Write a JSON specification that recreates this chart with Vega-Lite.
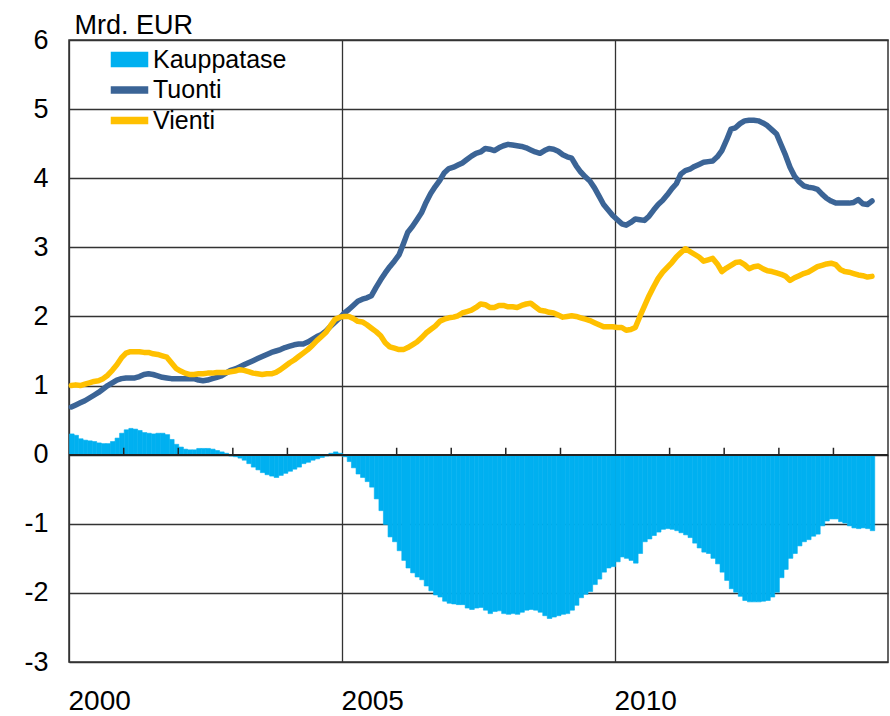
{
  "$schema": "https://vega.github.io/schema/vega-lite/v6.json",
  "width": 819,
  "height": 622,
  "autosize": "none",
  "padding": {"left": 69, "top": 40, "right": 2, "bottom": 54},
  "background": "white",
  "config": {
    "view": {"stroke": "#333", "strokeWidth": 1.5},
    "font": "Liberation Sans"
  },
  "data": {"values": [
{"d":"2000-01-01","Kauppatase":0.30,"Tuonti":0.69,"Vienti":1.00},
{"d":"2000-02-01","Kauppatase":0.28,"Tuonti":0.72,"Vienti":1.01},
{"d":"2000-03-01","Kauppatase":0.23,"Tuonti":0.75,"Vienti":1.00},
{"d":"2000-04-01","Kauppatase":0.21,"Tuonti":0.78,"Vienti":1.02},
{"d":"2000-05-01","Kauppatase":0.20,"Tuonti":0.82,"Vienti":1.04},
{"d":"2000-06-01","Kauppatase":0.19,"Tuonti":0.86,"Vienti":1.06},
{"d":"2000-07-01","Kauppatase":0.17,"Tuonti":0.90,"Vienti":1.07},
{"d":"2000-08-01","Kauppatase":0.16,"Tuonti":0.95,"Vienti":1.10},
{"d":"2000-09-01","Kauppatase":0.16,"Tuonti":1.00,"Vienti":1.15},
{"d":"2000-10-01","Kauppatase":0.19,"Tuonti":1.04,"Vienti":1.22},
{"d":"2000-11-01","Kauppatase":0.24,"Tuonti":1.08,"Vienti":1.30},
{"d":"2000-12-01","Kauppatase":0.31,"Tuonti":1.10,"Vienti":1.40},
{"d":"2001-01-01","Kauppatase":0.36,"Tuonti":1.11,"Vienti":1.47},
{"d":"2001-02-01","Kauppatase":0.38,"Tuonti":1.11,"Vienti":1.49},
{"d":"2001-03-01","Kauppatase":0.37,"Tuonti":1.11,"Vienti":1.49},
{"d":"2001-04-01","Kauppatase":0.35,"Tuonti":1.13,"Vienti":1.49},
{"d":"2001-05-01","Kauppatase":0.32,"Tuonti":1.16,"Vienti":1.48},
{"d":"2001-06-01","Kauppatase":0.31,"Tuonti":1.17,"Vienti":1.48},
{"d":"2001-07-01","Kauppatase":0.30,"Tuonti":1.16,"Vienti":1.46},
{"d":"2001-08-01","Kauppatase":0.31,"Tuonti":1.14,"Vienti":1.45},
{"d":"2001-09-01","Kauppatase":0.31,"Tuonti":1.12,"Vienti":1.43},
{"d":"2001-10-01","Kauppatase":0.29,"Tuonti":1.11,"Vienti":1.41},
{"d":"2001-11-01","Kauppatase":0.22,"Tuonti":1.10,"Vienti":1.33},
{"d":"2001-12-01","Kauppatase":0.15,"Tuonti":1.10,"Vienti":1.25},
{"d":"2002-01-01","Kauppatase":0.11,"Tuonti":1.10,"Vienti":1.21},
{"d":"2002-02-01","Kauppatase":0.08,"Tuonti":1.10,"Vienti":1.18},
{"d":"2002-03-01","Kauppatase":0.07,"Tuonti":1.10,"Vienti":1.16},
{"d":"2002-04-01","Kauppatase":0.07,"Tuonti":1.10,"Vienti":1.16},
{"d":"2002-05-01","Kauppatase":0.09,"Tuonti":1.08,"Vienti":1.17},
{"d":"2002-06-01","Kauppatase":0.09,"Tuonti":1.07,"Vienti":1.17},
{"d":"2002-07-01","Kauppatase":0.09,"Tuonti":1.08,"Vienti":1.18},
{"d":"2002-08-01","Kauppatase":0.08,"Tuonti":1.10,"Vienti":1.18},
{"d":"2002-09-01","Kauppatase":0.06,"Tuonti":1.12,"Vienti":1.19},
{"d":"2002-10-01","Kauppatase":0.04,"Tuonti":1.14,"Vienti":1.19},
{"d":"2002-11-01","Kauppatase":0.02,"Tuonti":1.18,"Vienti":1.19},
{"d":"2002-12-01","Kauppatase":-0.02,"Tuonti":1.22,"Vienti":1.20},
{"d":"2003-01-01","Kauppatase":-0.03,"Tuonti":1.24,"Vienti":1.21},
{"d":"2003-02-01","Kauppatase":-0.05,"Tuonti":1.27,"Vienti":1.23},
{"d":"2003-03-01","Kauppatase":-0.08,"Tuonti":1.30,"Vienti":1.22},
{"d":"2003-04-01","Kauppatase":-0.13,"Tuonti":1.33,"Vienti":1.20},
{"d":"2003-05-01","Kauppatase":-0.18,"Tuonti":1.36,"Vienti":1.18},
{"d":"2003-06-01","Kauppatase":-0.22,"Tuonti":1.39,"Vienti":1.17},
{"d":"2003-07-01","Kauppatase":-0.26,"Tuonti":1.42,"Vienti":1.16},
{"d":"2003-08-01","Kauppatase":-0.29,"Tuonti":1.45,"Vienti":1.17},
{"d":"2003-09-01","Kauppatase":-0.31,"Tuonti":1.48,"Vienti":1.17},
{"d":"2003-10-01","Kauppatase":-0.33,"Tuonti":1.50,"Vienti":1.19},
{"d":"2003-11-01","Kauppatase":-0.30,"Tuonti":1.52,"Vienti":1.23},
{"d":"2003-12-01","Kauppatase":-0.27,"Tuonti":1.55,"Vienti":1.28},
{"d":"2004-01-01","Kauppatase":-0.24,"Tuonti":1.57,"Vienti":1.33},
{"d":"2004-02-01","Kauppatase":-0.21,"Tuonti":1.59,"Vienti":1.37},
{"d":"2004-03-01","Kauppatase":-0.18,"Tuonti":1.60,"Vienti":1.42},
{"d":"2004-04-01","Kauppatase":-0.13,"Tuonti":1.60,"Vienti":1.47},
{"d":"2004-05-01","Kauppatase":-0.11,"Tuonti":1.63,"Vienti":1.52},
{"d":"2004-06-01","Kauppatase":-0.08,"Tuonti":1.67,"Vienti":1.58},
{"d":"2004-07-01","Kauppatase":-0.06,"Tuonti":1.71,"Vienti":1.65},
{"d":"2004-08-01","Kauppatase":-0.04,"Tuonti":1.74,"Vienti":1.71},
{"d":"2004-09-01","Kauppatase":-0.02,"Tuonti":1.79,"Vienti":1.77},
{"d":"2004-10-01","Kauppatase":0.02,"Tuonti":1.86,"Vienti":1.87},
{"d":"2004-11-01","Kauppatase":0.04,"Tuonti":1.92,"Vienti":1.96},
{"d":"2004-12-01","Kauppatase":0.02,"Tuonti":1.98,"Vienti":1.99},
{"d":"2005-01-01","Kauppatase":-0.03,"Tuonti":2.05,"Vienti":2.00},
{"d":"2005-02-01","Kauppatase":-0.10,"Tuonti":2.10,"Vienti":2.00},
{"d":"2005-03-01","Kauppatase":-0.19,"Tuonti":2.16,"Vienti":1.97},
{"d":"2005-04-01","Kauppatase":-0.28,"Tuonti":2.22,"Vienti":1.93},
{"d":"2005-05-01","Kauppatase":-0.33,"Tuonti":2.25,"Vienti":1.92},
{"d":"2005-06-01","Kauppatase":-0.39,"Tuonti":2.27,"Vienti":1.88},
{"d":"2005-07-01","Kauppatase":-0.47,"Tuonti":2.30,"Vienti":1.83},
{"d":"2005-08-01","Kauppatase":-0.64,"Tuonti":2.42,"Vienti":1.78},
{"d":"2005-09-01","Kauppatase":-0.81,"Tuonti":2.53,"Vienti":1.72},
{"d":"2005-10-01","Kauppatase":-1.01,"Tuonti":2.63,"Vienti":1.62},
{"d":"2005-11-01","Kauppatase":-1.19,"Tuonti":2.72,"Vienti":1.56},
{"d":"2005-12-01","Kauppatase":-1.26,"Tuonti":2.80,"Vienti":1.54},
{"d":"2006-01-01","Kauppatase":-1.39,"Tuonti":2.89,"Vienti":1.52},
{"d":"2006-02-01","Kauppatase":-1.53,"Tuonti":3.05,"Vienti":1.52},
{"d":"2006-03-01","Kauppatase":-1.64,"Tuonti":3.22,"Vienti":1.55},
{"d":"2006-04-01","Kauppatase":-1.71,"Tuonti":3.30,"Vienti":1.59},
{"d":"2006-05-01","Kauppatase":-1.77,"Tuonti":3.40,"Vienti":1.63},
{"d":"2006-06-01","Kauppatase":-1.81,"Tuonti":3.50,"Vienti":1.69},
{"d":"2006-07-01","Kauppatase":-1.90,"Tuonti":3.65,"Vienti":1.76},
{"d":"2006-08-01","Kauppatase":-1.97,"Tuonti":3.78,"Vienti":1.81},
{"d":"2006-09-01","Kauppatase":-2.03,"Tuonti":3.88,"Vienti":1.86},
{"d":"2006-10-01","Kauppatase":-2.06,"Tuonti":3.97,"Vienti":1.93},
{"d":"2006-11-01","Kauppatase":-2.12,"Tuonti":4.08,"Vienti":1.96},
{"d":"2006-12-01","Kauppatase":-2.15,"Tuonti":4.14,"Vienti":1.98},
{"d":"2007-01-01","Kauppatase":-2.16,"Tuonti":4.16,"Vienti":1.99},
{"d":"2007-02-01","Kauppatase":-2.17,"Tuonti":4.19,"Vienti":2.01},
{"d":"2007-03-01","Kauppatase":-2.17,"Tuonti":4.22,"Vienti":2.05},
{"d":"2007-04-01","Kauppatase":-2.22,"Tuonti":4.27,"Vienti":2.07},
{"d":"2007-05-01","Kauppatase":-2.24,"Tuonti":4.32,"Vienti":2.09},
{"d":"2007-06-01","Kauppatase":-2.22,"Tuonti":4.36,"Vienti":2.13},
{"d":"2007-07-01","Kauppatase":-2.21,"Tuonti":4.38,"Vienti":2.18},
{"d":"2007-08-01","Kauppatase":-2.25,"Tuonti":4.43,"Vienti":2.17},
{"d":"2007-09-01","Kauppatase":-2.30,"Tuonti":4.42,"Vienti":2.13},
{"d":"2007-10-01","Kauppatase":-2.27,"Tuonti":4.40,"Vienti":2.13},
{"d":"2007-11-01","Kauppatase":-2.26,"Tuonti":4.44,"Vienti":2.16},
{"d":"2007-12-01","Kauppatase":-2.30,"Tuonti":4.47,"Vienti":2.16},
{"d":"2008-01-01","Kauppatase":-2.31,"Tuonti":4.49,"Vienti":2.14},
{"d":"2008-02-01","Kauppatase":-2.30,"Tuonti":4.48,"Vienti":2.14},
{"d":"2008-03-01","Kauppatase":-2.31,"Tuonti":4.47,"Vienti":2.13},
{"d":"2008-04-01","Kauppatase":-2.28,"Tuonti":4.46,"Vienti":2.16},
{"d":"2008-05-01","Kauppatase":-2.25,"Tuonti":4.44,"Vienti":2.18},
{"d":"2008-06-01","Kauppatase":-2.24,"Tuonti":4.41,"Vienti":2.19},
{"d":"2008-07-01","Kauppatase":-2.25,"Tuonti":4.38,"Vienti":2.14},
{"d":"2008-08-01","Kauppatase":-2.28,"Tuonti":4.36,"Vienti":2.09},
{"d":"2008-09-01","Kauppatase":-2.33,"Tuonti":4.40,"Vienti":2.08},
{"d":"2008-10-01","Kauppatase":-2.37,"Tuonti":4.43,"Vienti":2.06},
{"d":"2008-11-01","Kauppatase":-2.35,"Tuonti":4.42,"Vienti":2.05},
{"d":"2008-12-01","Kauppatase":-2.33,"Tuonti":4.39,"Vienti":2.02},
{"d":"2009-01-01","Kauppatase":-2.31,"Tuonti":4.34,"Vienti":1.99},
{"d":"2009-02-01","Kauppatase":-2.30,"Tuonti":4.31,"Vienti":2.00},
{"d":"2009-03-01","Kauppatase":-2.25,"Tuonti":4.29,"Vienti":2.01},
{"d":"2009-04-01","Kauppatase":-2.18,"Tuonti":4.18,"Vienti":2.00},
{"d":"2009-05-01","Kauppatase":-2.07,"Tuonti":4.09,"Vienti":1.98},
{"d":"2009-06-01","Kauppatase":-2.02,"Tuonti":4.02,"Vienti":1.96},
{"d":"2009-07-01","Kauppatase":-1.98,"Tuonti":3.96,"Vienti":1.94},
{"d":"2009-08-01","Kauppatase":-1.88,"Tuonti":3.86,"Vienti":1.91},
{"d":"2009-09-01","Kauppatase":-1.80,"Tuonti":3.74,"Vienti":1.88},
{"d":"2009-10-01","Kauppatase":-1.70,"Tuonti":3.62,"Vienti":1.85},
{"d":"2009-11-01","Kauppatase":-1.64,"Tuonti":3.54,"Vienti":1.85},
{"d":"2009-12-01","Kauppatase":-1.62,"Tuonti":3.46,"Vienti":1.85},
{"d":"2010-01-01","Kauppatase":-1.55,"Tuonti":3.40,"Vienti":1.84},
{"d":"2010-02-01","Kauppatase":-1.48,"Tuonti":3.34,"Vienti":1.84},
{"d":"2010-03-01","Kauppatase":-1.50,"Tuonti":3.32,"Vienti":1.80},
{"d":"2010-04-01","Kauppatase":-1.53,"Tuonti":3.36,"Vienti":1.81},
{"d":"2010-05-01","Kauppatase":-1.57,"Tuonti":3.41,"Vienti":1.84},
{"d":"2010-06-01","Kauppatase":-1.43,"Tuonti":3.40,"Vienti":2.00},
{"d":"2010-07-01","Kauppatase":-1.26,"Tuonti":3.39,"Vienti":2.15},
{"d":"2010-08-01","Kauppatase":-1.22,"Tuonti":3.45,"Vienti":2.30},
{"d":"2010-09-01","Kauppatase":-1.17,"Tuonti":3.54,"Vienti":2.43},
{"d":"2010-10-01","Kauppatase":-1.12,"Tuonti":3.62,"Vienti":2.55},
{"d":"2010-11-01","Kauppatase":-1.08,"Tuonti":3.68,"Vienti":2.64},
{"d":"2010-12-01","Kauppatase":-1.07,"Tuonti":3.76,"Vienti":2.71},
{"d":"2011-01-01","Kauppatase":-1.08,"Tuonti":3.85,"Vienti":2.78},
{"d":"2011-02-01","Kauppatase":-1.10,"Tuonti":3.92,"Vienti":2.86},
{"d":"2011-03-01","Kauppatase":-1.13,"Tuonti":4.06,"Vienti":2.92},
{"d":"2011-04-01","Kauppatase":-1.16,"Tuonti":4.11,"Vienti":2.98},
{"d":"2011-05-01","Kauppatase":-1.20,"Tuonti":4.13,"Vienti":2.94},
{"d":"2011-06-01","Kauppatase":-1.28,"Tuonti":4.17,"Vienti":2.90},
{"d":"2011-07-01","Kauppatase":-1.35,"Tuonti":4.20,"Vienti":2.86},
{"d":"2011-08-01","Kauppatase":-1.41,"Tuonti":4.23,"Vienti":2.80},
{"d":"2011-09-01","Kauppatase":-1.43,"Tuonti":4.24,"Vienti":2.82},
{"d":"2011-10-01","Kauppatase":-1.50,"Tuonti":4.25,"Vienti":2.84},
{"d":"2011-11-01","Kauppatase":-1.58,"Tuonti":4.31,"Vienti":2.76},
{"d":"2011-12-01","Kauppatase":-1.70,"Tuonti":4.40,"Vienti":2.65},
{"d":"2012-01-01","Kauppatase":-1.82,"Tuonti":4.55,"Vienti":2.70},
{"d":"2012-02-01","Kauppatase":-1.94,"Tuonti":4.71,"Vienti":2.74},
{"d":"2012-03-01","Kauppatase":-1.99,"Tuonti":4.73,"Vienti":2.78},
{"d":"2012-04-01","Kauppatase":-2.05,"Tuonti":4.79,"Vienti":2.79},
{"d":"2012-05-01","Kauppatase":-2.11,"Tuonti":4.83,"Vienti":2.75},
{"d":"2012-06-01","Kauppatase":-2.13,"Tuonti":4.84,"Vienti":2.69},
{"d":"2012-07-01","Kauppatase":-2.13,"Tuonti":4.84,"Vienti":2.72},
{"d":"2012-08-01","Kauppatase":-2.13,"Tuonti":4.83,"Vienti":2.73},
{"d":"2012-09-01","Kauppatase":-2.12,"Tuonti":4.80,"Vienti":2.69},
{"d":"2012-10-01","Kauppatase":-2.11,"Tuonti":4.76,"Vienti":2.66},
{"d":"2012-11-01","Kauppatase":-2.06,"Tuonti":4.70,"Vienti":2.65},
{"d":"2012-12-01","Kauppatase":-1.99,"Tuonti":4.64,"Vienti":2.63},
{"d":"2013-01-01","Kauppatase":-1.78,"Tuonti":4.48,"Vienti":2.61},
{"d":"2013-02-01","Kauppatase":-1.66,"Tuonti":4.33,"Vienti":2.58},
{"d":"2013-03-01","Kauppatase":-1.50,"Tuonti":4.16,"Vienti":2.52},
{"d":"2013-04-01","Kauppatase":-1.43,"Tuonti":4.03,"Vienti":2.56},
{"d":"2013-05-01","Kauppatase":-1.32,"Tuonti":3.95,"Vienti":2.59},
{"d":"2013-06-01","Kauppatase":-1.26,"Tuonti":3.89,"Vienti":2.62},
{"d":"2013-07-01","Kauppatase":-1.23,"Tuonti":3.87,"Vienti":2.64},
{"d":"2013-08-01","Kauppatase":-1.18,"Tuonti":3.86,"Vienti":2.68},
{"d":"2013-09-01","Kauppatase":-1.15,"Tuonti":3.84,"Vienti":2.72},
{"d":"2013-10-01","Kauppatase":-1.03,"Tuonti":3.77,"Vienti":2.74},
{"d":"2013-11-01","Kauppatase":-0.96,"Tuonti":3.71,"Vienti":2.76},
{"d":"2013-12-01","Kauppatase":-0.93,"Tuonti":3.67,"Vienti":2.77},
{"d":"2014-01-01","Kauppatase":-0.93,"Tuonti":3.64,"Vienti":2.75},
{"d":"2014-02-01","Kauppatase":-0.97,"Tuonti":3.64,"Vienti":2.68},
{"d":"2014-03-01","Kauppatase":-0.99,"Tuonti":3.64,"Vienti":2.65},
{"d":"2014-04-01","Kauppatase":-1.03,"Tuonti":3.64,"Vienti":2.64},
{"d":"2014-05-01","Kauppatase":-1.06,"Tuonti":3.65,"Vienti":2.62},
{"d":"2014-06-01","Kauppatase":-1.07,"Tuonti":3.69,"Vienti":2.60},
{"d":"2014-07-01","Kauppatase":-1.06,"Tuonti":3.63,"Vienti":2.59},
{"d":"2014-08-01","Kauppatase":-1.07,"Tuonti":3.62,"Vienti":2.57},
{"d":"2014-09-01","Kauppatase":-1.10,"Tuonti":3.67,"Vienti":2.58}
  ]},
  "layer": [
    {
      "mark": {"type": "bar", "color": "#00B0F0", "binSpacing": 0, "stroke": "#00B0F0", "strokeWidth": 0.6},
      "encoding": {
        "x": {
          "field": "d", "type": "temporal", "timeUnit": "utcyearmonth",
          "scale": {"domain": [{"year": 2000, "month": 1, "date": 1, "utc": true}, {"year": 2015, "month": 1, "date": 1, "utc": true}]},
          "axis": {
            "values": [{"year": 2000, "month": 1, "date": 1, "utc": true}, {"year": 2005, "month": 1, "date": 1, "utc": true}, {"year": 2010, "month": 1, "date": 1, "utc": true}],
            "format": "%Y", "title": null, "grid": true, "gridColor": "#333", "gridWidth": 1.3,
            "ticks": false, "tickSize": 0, "domain": false, "labelAlign": "left", "labelFlush": false,
            "labelOffset": -1, "labelBaseline": "alphabetic", "labelPadding": 47,
            "labelFontSize": 28, "labelFont": "Liberation Sans", "labelColor": "#000"
          }
        },
        "y": {
          "field": "Kauppatase", "type": "quantitative",
          "scale": {"domain": [-3, 6], "nice": false, "zero": false},
          "axis": {
            "values": [-3, -2, -1, 0, 1, 2, 3, 4, 5, 6],
            "labelExpr": "toString(datum.value)",
            "grid": true, "gridColor": "#333", "gridWidth": 1.3, "ticks": false, "domain": false,
            "labelPadding": 21, "labelFontSize": 27, "labelFont": "Liberation Sans", "labelColor": "#000",
            "title": "Mrd. EUR", "titleAngle": 0, "titleAlign": "left", "titleBaseline": "alphabetic",
            "titleX": 5, "titleY": -7, "titleFontSize": 27, "titleFont": "Liberation Sans",
            "titleFontWeight": "normal", "titleColor": "#000"
          }
        },
        "color": {
          "datum": "Kauppatase", "type": "nominal", "title": null,
          "scale": {"domain": ["Kauppatase", "Tuonti", "Vienti"], "range": ["#00B0F0", "#3B6496", "#FFC000"]},
          "legend": {
            "title": null, "orient": "none", "legendX": 48, "legendY": 7, "padding": 0,
            "symbolSize": 400, "symbolType": "M-1.8,-0.3H1.8V0.3H-1.8Z",
            "labelFontSize": 25, "labelFont": "Liberation Sans", "labelColor": "#000",
            "labelOffset": 11, "rowPadding": 4.5,
            "encode": {"symbols": {"update": {
              "shape": {"signal": "datum.value === 'Kauppatase' ? 'M-1.8,-0.7H1.8V0.7H-1.8Z' : 'M-1.8,-0.3H1.8V0.3H-1.8Z'"}
            }}}
          }
        }
      }
    },
    {
      "mark": {"type": "rule", "color": "#222", "strokeWidth": 1.5},
      "encoding": {"y": {"datum": 0}}
    },
    {
      "data": {"values": [
        {"yr": "2001-01-01"}, {"yr": "2002-01-01"}, {"yr": "2003-01-01"}, {"yr": "2004-01-01"},
        {"yr": "2006-01-01"}, {"yr": "2007-01-01"}, {"yr": "2008-01-01"}, {"yr": "2009-01-01"},
        {"yr": "2011-01-01"}, {"yr": "2012-01-01"}, {"yr": "2013-01-01"}, {"yr": "2014-01-01"}
      ]},
      "mark": {"type": "rule", "color": "#222", "strokeWidth": 1.5},
      "encoding": {
        "x": {"field": "yr", "type": "temporal", "timeUnit": "utcyearmonth"},
        "y": {"datum": 0},
        "y2": {"datum": 0.1}
      }
    },
    {
      "transform": [{"fold": ["Tuonti", "Vienti"], "as": ["series", "value"]}],
      "mark": {"type": "line", "strokeWidth": 5.5, "strokeCap": "round", "strokeJoin": "round"},
      "encoding": {
        "x": {"field": "d", "type": "temporal", "timeUnit": "utcyearmonth", "bandPosition": 0.5},
        "y": {"field": "value", "type": "quantitative"},
        "color": {
          "field": "series", "type": "nominal", "title": null,
          "legend": {
            "title": null, "orient": "none", "legendX": 48, "legendY": 7, "padding": 0,
            "symbolSize": 400, "symbolType": "M-1.8,-0.3H1.8V0.3H-1.8Z",
            "labelFontSize": 25, "labelFont": "Liberation Sans", "labelColor": "#000",
            "labelOffset": 11, "rowPadding": 4.5,
            "encode": {"symbols": {"update": {
              "shape": {"signal": "datum.value === 'Kauppatase' ? 'M-1.8,-0.7H1.8V0.7H-1.8Z' : 'M-1.8,-0.3H1.8V0.3H-1.8Z'"}
            }}}
          }
        }
      }
    }
  ]
}
